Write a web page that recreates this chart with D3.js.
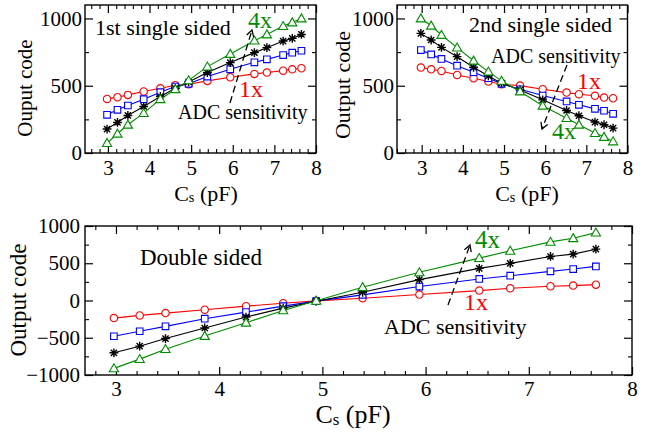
<!DOCTYPE html>
<html>
<head>
<meta charset="utf-8">
<script src="https://cdn.jsdelivr.net/npm/d3@7"></script>
<style>
  body { margin: 0; background: #fff; }
  svg text { font-family: "Liberation Serif", "Times New Roman", serif; }
</style>
</head>
<body>
<div id="chart"></div>
<script>
// capacitance values (pF), shared by every panel
const cs = [2.98, 3.23, 3.48, 3.86, 4.26, 4.62, 4.94, 5.39, 5.94, 6.52, 6.82, 7.21, 7.43, 7.65];

// 1st single sided
const single1_1x = [402, 415, 432, 457, 481, 504, 511, 536, 563, 588, 598, 612, 622, 630];
const single1_2x = [284, 321, 353, 400, 452, 494, 514, 568, 622, 674, 696, 728, 746, 760];
const single1_3x = [178, 227, 279, 346, 420, 481, 528, 598, 672, 746, 783, 832, 852, 881];
const single1_4x = [74, 143, 210, 296, 400, 474, 540, 642, 736, 835, 881, 943, 970, 1000];

// 2nd single sided
const single2_1x = [635, 622, 610, 580, 556, 531, 511, 501, 474, 449, 437, 425, 412, 407];
const single2_2x = [765, 733, 699, 649, 600, 556, 514, 474, 427, 383, 358, 328, 314, 291];
const single2_3x = [889, 840, 785, 716, 637, 573, 519, 469, 395, 316, 277, 230, 210, 185];
const single2_4x = [1000, 946, 877, 783, 686, 605, 536, 457, 351, 259, 210, 148, 119, 86];

// double sided
const double_1x = [-236, -200, -169, -124, -76, -36, -5, 31, 80, 133, 164, 191, 200, 213];
const double_2x = [-480, -413, -347, -244, -156, -76, -8, 76, 187, 289, 333, 391, 422, 458];
const double_3x = [-702, -613, -511, -369, -222, -102, -10, 111, 280, 431, 498, 591, 622, 689];
const double_4x = [-911, -787, -653, -476, -298, -133, -4, 178, 378, 569, 667, 787, 836, 911];

const xTicks = [3, 4, 5, 6, 7, 8];
const yTicksSingle = [0, 500, 1000];
const yTicksDouble = [-1000, -500, 0, 500, 1000];

const W = 652, H = 434;
const GREEN = '#008c00';
const styles = [
    { color: '#ff0000', shape: 'circle' },
    { color: '#0000ff', shape: 'square' },
    { color: '#000000', shape: 'star' },
    { color: GREEN, shape: 'triangle' }
];

const panels = [
    {
        box: { l: 85, r: 316, t: 5, b: 153 }, xd: [2.45, 8], yd: [0, 1100],
        yTicks: yTicksSingle, yMinor: 250, series: [single1_1x, single1_2x, single1_3x, single1_4x],
        ylab: 'Ouput code', ylabPos: [25, 88], ylabSize: 21,
        xlabPos: [206, 193], xlabSize: 22, tickSize: 21, xPad: 7, yPad: 3,
        texts: [
            { t: '1st single sided', x: 95, y: 35, s: 22, c: '#000' },
            { t: '4x', x: 248, y: 28, s: 24, c: GREEN },
            { t: '1x', x: 239, y: 97, s: 24, c: '#ff0000' },
            { t: 'ADC sensitivity', x: 178, y: 119, s: 20, c: '#000' }
        ],
        arrow: [230, 103, 252, 30]
    },
    {
        box: { l: 397, r: 627.5, t: 5, b: 153 }, xd: [2.4, 8], yd: [0, 1100],
        yTicks: yTicksSingle, yMinor: 250, series: [single2_1x, single2_2x, single2_3x, single2_4x],
        ylab: 'Output code', ylabPos: [342, 85], ylabSize: 22,
        xlabPos: [527, 193], xlabSize: 22, tickSize: 21, xPad: 7, yPad: 3,
        texts: [
            { t: '2nd single sided', x: 469, y: 32, s: 22, c: '#000' },
            { t: 'ADC sensitivity', x: 491, y: 63, s: 20, c: '#000' },
            { t: '1x', x: 577, y: 89, s: 24, c: '#ff0000' },
            { t: '4x', x: 552, y: 139, s: 24, c: GREEN }
        ],
        arrow: [567, 65, 542, 129]
    },
    {
        box: { l: 85, r: 632, t: 226, b: 375 }, xd: [2.7, 8], yd: [-1000, 1000],
        yTicks: yTicksDouble, yMinor: 250, series: [double_1x, double_2x, double_3x, double_4x],
        ylab: 'Output code', ylabPos: [18, 300], ylabSize: 23,
        xlabPos: [353, 414], xlabSize: 26, tickSize: 21, xPad: 6, yPad: 5,
        texts: [
            { t: 'Double sided', x: 140, y: 265, s: 23, c: '#000' },
            { t: '4x', x: 475, y: 248, s: 25, c: GREEN },
            { t: '1x', x: 464, y: 310, s: 24, c: '#ff0000' },
            { t: 'ADC sensitivity', x: 384, y: 334, s: 22, c: '#000' }
        ],
        arrow: [448, 305, 470, 245]
    }
];

const svg = d3.select('#chart').append('svg')
    .attr('width', W)
    .attr('height', H);

svg.append('defs').append('marker')
    .attr('id', 'head')
    .attr('viewBox', '-1 -5 10 10')
    .attr('refX', 7).attr('refY', 0)
    .attr('markerWidth', 9).attr('markerHeight', 9)
    .attr('markerUnits', 'userSpaceOnUse')
    .attr('orient', 'auto')
    .append('path')
        .attr('d', 'M0,-4 L7,0 L0,4')
        .attr('fill', 'none')
        .attr('stroke', '#000')
        .attr('stroke-width', 1.4);

function markerPath(shape) {
    if (shape == 'circle') return 'M-3.7,0 A3.7,3.7 0 1,0 3.7,0 A3.7,3.7 0 1,0 -3.7,0';
    if (shape == 'square') return 'M-3.3,-3.3 H3.3 V3.3 H-3.3 Z';
    if (shape == 'triangle') return 'M0,-4.6 L4.6,3.4 L-4.6,3.4 Z';
    // 8-arm star
    const r = 4.4, d = 3.1;
    return `M${-r},0 H${r} M0,${-r} V${r} M${-d},${-d} L${d},${d} M${-d},${d} L${d},${-d}`;
}

function range(a, b, step) {
    let out = [];
    for (let v = a; v <= b + 1e-9; v += step) out.push(+v.toFixed(3));
    return out;
}

const fmt = d3.format('d');

panels.forEach(function(p) {
    const x = d3.scaleLinear().domain(p.xd).range([p.box.l, p.box.r]);
    const y = d3.scaleLinear().domain(p.yd).range([p.box.b, p.box.t]);
    const g = svg.append('g');

    const xMinor = range(Math.ceil(p.xd[0] / 0.2 - 1e-9) * 0.2, p.xd[1], 0.2)
        .filter(v => Math.abs(v - Math.round(v)) > 1e-6);
    const yMinor = range(p.yd[0], p.yd[1], p.yMinor).filter(v => !p.yTicks.includes(v));

    // inward ticks on all four sides: major ones first, labelled on bottom and left
    const axes = [
        [d3.axisBottom(x), `translate(0,${p.box.b})`],
        [d3.axisTop(x), `translate(0,${p.box.t})`],
        [d3.axisLeft(y), `translate(${p.box.l},0)`],
        [d3.axisRight(y), `translate(${p.box.r},0)`]
    ];
    axes.forEach(function(a, i) {
        const isX = i < 2;
        const major = a[0].tickValues(isX ? xTicks : p.yTicks).tickSize(-8).tickSizeOuter(0);
        if (i == 0) major.tickPadding(p.xPad).tickFormat(fmt);
        else if (i == 2) major.tickPadding(p.yPad).tickFormat(fmt);
        else major.tickFormat('');
        const ga = g.append('g').attr('transform', a[1]).call(major);
        ga.select('.domain').remove();
        ga.selectAll('line').attr('stroke-width', 1.2);
        ga.selectAll('text')
            .attr('font-size', p.tickSize)
            .attr('fill', '#000');

        const minor = (isX ? (i == 0 ? d3.axisBottom(x) : d3.axisTop(x)) : (i == 2 ? d3.axisLeft(y) : d3.axisRight(y)))
            .tickValues(isX ? xMinor : yMinor).tickSize(-4).tickSizeOuter(0).tickFormat('');
        const gm = g.append('g').attr('transform', a[1]).call(minor);
        gm.select('.domain').remove();
        gm.selectAll('line').attr('stroke-width', 1.1);
    });

    g.append('rect')
        .attr('x', p.box.l).attr('y', p.box.t)
        .attr('width', p.box.r - p.box.l).attr('height', p.box.b - p.box.t)
        .attr('fill', 'none')
        .attr('stroke', '#000')
        .attr('stroke-width', 1.4);

    // series
    p.series.forEach(function(vals, si) {
        const st = styles[si];
        const pts = cs.map((c, i) => [c, vals[i]]);
        g.append('path')
            .attr('d', d3.line().x(d => x(d[0])).y(d => y(d[1]))(pts))
            .attr('fill', 'none')
            .attr('stroke', st.color)
            .attr('stroke-width', 1.1);
        g.append('g').selectAll('path')
            .data(pts)
            .enter()
            .append('path')
                .attr('transform', d => `translate(${x(d[0])},${y(d[1])})`)
                .attr('d', markerPath(st.shape))
                .attr('fill', st.shape == 'star' ? 'none' : '#fff')
                .attr('stroke', st.color)
                .attr('stroke-width', st.shape == 'star' ? 1.4 : 1.1);
    });

    // axis titles
    g.append('text')
        .attr('transform', `translate(${p.ylabPos[0]},${p.ylabPos[1]}) rotate(-90)`)
        .attr('text-anchor', 'middle')
        .attr('dominant-baseline', 'central')
        .attr('font-size', p.ylabSize)
        .text(p.ylab);

    const xl = g.append('text')
        .attr('x', p.xlabPos[0]).attr('y', p.xlabPos[1])
        .attr('text-anchor', 'middle')
        .attr('dominant-baseline', 'central')
        .attr('font-size', p.xlabSize);
    xl.append('tspan').text('C');
    xl.append('tspan').attr('font-size', p.xlabSize * 0.65).attr('dy', '0.3em').text('s');
    xl.append('tspan').attr('dy', '-0.2em').text(' (pF)');

    // annotations
    p.texts.forEach(function(t) {
        g.append('text')
            .attr('x', t.x).attr('y', t.y)
            .attr('font-size', t.s)
            .attr('fill', t.c)
            .text(t.t);
    });
    g.append('line')
        .attr('x1', p.arrow[0]).attr('y1', p.arrow[1])
        .attr('x2', p.arrow[2]).attr('y2', p.arrow[3])
        .attr('stroke', '#000')
        .attr('stroke-width', 1.3)
        .attr('stroke-dasharray', '7,4')
        .attr('marker-end', 'url(#head)');
});
</script>
</body>
</html>
